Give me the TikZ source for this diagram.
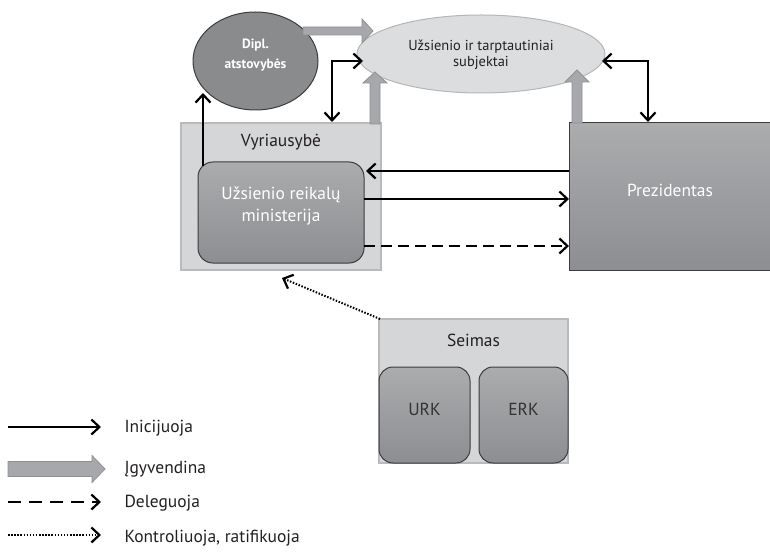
\documentclass[tikz,border=0pt]{standalone}
\usepackage{fontspec}
\setmainfont{PT Sans}
\usetikzlibrary{arrows.meta,shapes.geometric}
\definecolor{lightbox}{HTML}{D5D6D8}
\definecolor{lightedge}{HTML}{B9BABC}
\definecolor{ellfill}{HTML}{DCDDDF}
\definecolor{elledge}{HTML}{B5B6B8}
\definecolor{darktop}{HTML}{ABACAE}
\definecolor{darkbot}{HTML}{8C8E91}
\definecolor{darkedge}{HTML}{3C3C3C}
\definecolor{garrow}{HTML}{A6A8AB}
\definecolor{garrowedge}{HTML}{8E9093}
\definecolor{dipfill}{HTML}{8A8B8D}
\definecolor{txt}{HTML}{231F20}
\tikzset{
  lightrect/.style={draw=lightedge, fill=lightbox, line width=1.2bp, inner sep=0pt},
  darkrect/.style={draw=darkedge, top color=darktop, bottom color=darkbot, line width=1bp, inner sep=0pt},
  tip/.tip={Straight Barb[length=8bp,width=15bp,line width=2.2bp]},
  conn/.style={draw=black, line width=2bp, -tip},
  bothconn/.style={draw=black, line width=2bp, tip-tip},
  dashconn/.style={conn, dash pattern=on 11bp off 6bp},
  dotconn/.style={conn, line width=2bp, dash pattern=on 1.5bp off 1.6bp},
  garrowstyle/.style={fill=garrow, draw=garrowedge, line width=0.8bp, line join=miter},
  darktxt/.style={text=txt, font=\fontsize{17.5}{21}\selectfont},
  whitetxt/.style={text=white, font=\fontsize{17.5}{23}\selectfont, align=center},
}
\newcommand\gup[4]{\draw[garrowstyle] (#1-5,#4) -- (#1-5,#3) -- (#1-12,#3) -- (#1,#2) -- (#1+12,#3) -- (#1+5,#3) -- (#1+5,#4) -- cycle;}
\begin{document}
\begin{tikzpicture}[x=1bp,y=-1bp]
\useasboundingbox (0,0) rectangle (770,554);
% boxes
\node[lightrect, minimum width=200bp, minimum height=147bp] (vyr) at (281,196.5) {};
\node[darktxt] (vyrlbl) at (281,142) {Vyriausybė};
\node[darkrect, rounded corners=15bp, minimum width=166bp, minimum height=101bp] (min) at (281,212.5) {};
\node[whitetxt] (minlbl) at (281,206) {Užsienio reikalų\\ministerija};
\node[darkrect, minimum width=204bp, minimum height=147bp] (prez) at (671,196.5) {};
\node[whitetxt] (prezlbl) at (670,190) {Prezidentas};
\node[lightrect, minimum width=189bp, minimum height=144bp] (seimas) at (473.5,391) {};
\node[darktxt] (seimaslbl) at (473.5,340) {Seimas};
\node[darkrect, rounded corners=14bp, minimum width=91bp, minimum height=96bp] (urk) at (424.5,415) {};
\node[darktxt, text=black!80] (urklbl) at (424.5,409) {URK};
\node[darkrect, rounded corners=14bp, minimum width=89bp, minimum height=96bp] (erk) at (523.5,415) {};
\node[darktxt, text=black!80] (erklbl) at (523.5,409) {ERK};
% ellipses
\node[ellipse, draw=darkedge, fill=dipfill, line width=1bp, minimum width=125bp, minimum height=98bp] (dipl) at (255.5,61) {};
\node[text=white, font=\bfseries\fontsize{13.5}{20}\selectfont, align=center] (dipllbl) at (255.5,55) {Dipl.\\atstovybės};
\node[ellipse, draw=elledge, fill=ellfill, line width=1bp, minimum width=248bp, minimum height=78bp] (uzs) at (481,54) {};
\node[text=txt, font=\fontsize{14.5}{16.5}\selectfont, align=center] (uzslbl) at (481,55) {Užsienio ir tarptautiniai\\subjektai};
% grey block arrows
\draw[garrowstyle] (303,27) -- (362,27) -- (362,19) -- (373,31) -- (362,43) -- (362,35) -- (303,35) -- cycle;
\gup{375}{72}{83}{124}
\gup{577}{70}{82}{123}
% connectors
\coordinate (mtop) at (203,166);
\coordinate (dbot) at (203,93);
\draw[conn] (mtop) -- (dbot);
\coordinate (vtop) at (332,122);
\coordinate (uleft) at (363,61);
\draw[bothconn] (vtop) |- (uleft);
\coordinate (ptop) at (648,122);
\coordinate (uright) at (602,61);
\draw[bothconn] (ptop) |- (uright);
\coordinate (p1) at (569,171);
\coordinate (m1) at (366,171);
\draw[conn] (p1) -- (m1);
\coordinate (m2) at (364,199);
\coordinate (p2) at (569,199);
\draw[conn] (m2) -- (p2);
\coordinate (m3) at (364,246);
\coordinate (p3) at (569,246);
\draw[dashconn] (m3) -- (p3);
\coordinate (scorner) at (380,319);
\coordinate (vbot) at (282,278);
\draw[dotconn] (scorner) -- (vbot);
% legend
\coordinate (l1a) at (8,427); \coordinate (l1b) at (101,427);
\draw[conn] (l1a) -- (l1b);
\node[darktxt, anchor=west] (leg1) at (121,428) {Inicijuoja};
\draw[garrowstyle] (8,461.5) -- (92,461.5) -- (92,455.5) -- (105,469) -- (92,482.5) -- (92,476.5) -- (8,476.5) -- cycle;
\node[darktxt, anchor=west] (leg2) at (121,469) {Įgyvendina};
\coordinate (l3a) at (8,502); \coordinate (l3b) at (101,502);
\draw[dashconn, dash pattern=on 13bp off 8bp] (l3a) -- (l3b);
\node[darktxt, anchor=west] (leg3) at (121,503) {Deleguoja};
\coordinate (l4a) at (8,535); \coordinate (l4b) at (101,535);
\draw[dotconn] (l4a) -- (l4b);
\node[darktxt, anchor=west] (leg4) at (121,538) {Kontroliuoja, ratifikuoja};
\end{tikzpicture}
\end{document}
